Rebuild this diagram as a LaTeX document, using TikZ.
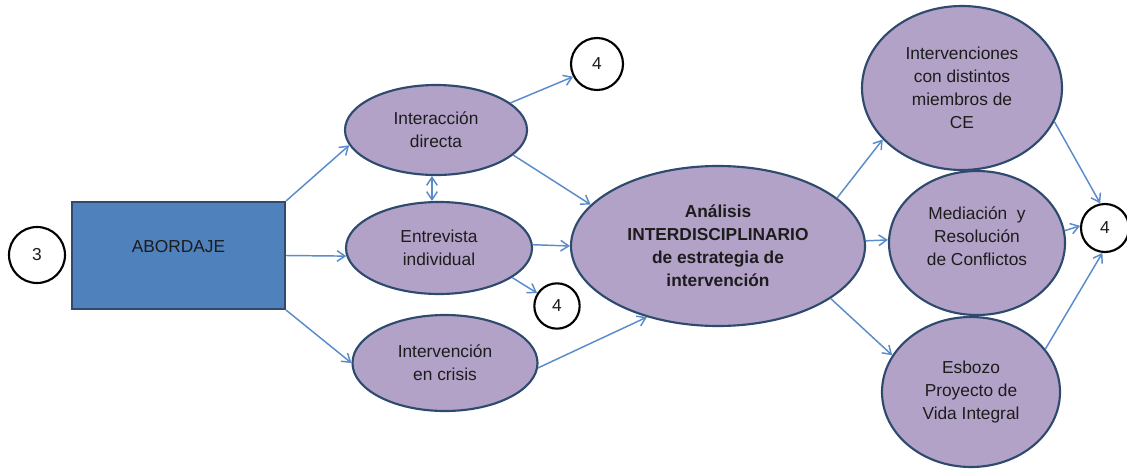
\documentclass[tikz,border=0pt]{standalone}
\usepackage{fontspec}
\setmainfont{Liberation Sans}
\usetikzlibrary{shapes.geometric,arrows.meta}
\definecolor{lav}{HTML}{B3A2C7}
\definecolor{edgeblue}{HTML}{2E4A6E}
\definecolor{boxblue}{HTML}{4F81BD}
\definecolor{arrowblue}{HTML}{5A8BCB}
\definecolor{txt}{HTML}{1C1C1C}
\tikzset{
  oval/.style={ellipse, draw=edgeblue, line width=1.6pt, fill=lav, inner sep=0pt, align=center, text=txt},
  numcirc/.style={circle, draw=black, line width=1.6pt, fill=white, inner sep=0pt, text=txt},
  conn/.style={draw=arrowblue, line width=1.1pt, -{Straight Barb[length=6pt,width=8pt]}},
  conn2/.style={draw=arrowblue, line width=1.1pt, {Straight Barb[length=6pt,width=8pt]}-{Straight Barb[length=6pt,width=8pt]}},
}
\begin{document}
\begin{tikzpicture}[x=0.75pt,y=-0.75pt,font=\fontsize{13}{17.25}\selectfont]
\useasboundingbox (0,0) rectangle (1127,471);
% nodes
\node[numcirc, minimum size=42pt] (three) at (37,255) {3};
\node[draw=edgeblue, line width=1.6pt, fill=boxblue, minimum width=159.75pt, minimum height=80.25pt, inner sep=0pt] (abordaje) at (178.5,255.5) {};
\node[text=txt] at (178.5,247) {ABORDAJE};
\node[oval, minimum width=136.5pt, minimum height=67.5pt] (inter) at (436,130) {Interacción\\directa};
\node[oval, minimum width=139.5pt, minimum height=69pt] (entre) at (439,248) {Entrevista\\individual};
\node[oval, minimum width=138.75pt, minimum height=72pt] (crisis) at (445,363) {Intervención\\en crisis};
\node[numcirc, minimum size=39pt] (fourA) at (597,64) {4};
\node[numcirc, minimum size=34pt] (fourB) at (557,306) {4};
\node[oval, minimum width=220.5pt, minimum height=120pt, font=\fontsize{13}{17.25}\selectfont\bfseries] (anal) at (718,246) {Análisis\\INTERDISCIPLINARIO\\de estrategia de\\intervención};
\node[oval, minimum width=150pt, minimum height=123pt] (ce) at (962,88) {Intervenciones\\con distintos\\miembros de\\CE};
\node[oval, minimum width=132pt, minimum height=108pt] (med) at (977,243) {};
\node[align=center, text=txt] at (977,236) {Mediación\ \ y\\Resolución\\de Conflictos};
\node[oval, minimum width=133.5pt, minimum height=112.5pt] (esb) at (971,392) {Esbozo\\Proyecto de\\Vida Integral};
\node[numcirc, minimum size=36pt] (fourC) at (1105,228) {4};
% connectors
\draw[conn] (abordaje.north east) -- (inter.190);
\draw[conn] (abordaje.east) -- (entre.185);
\draw[conn] (abordaje.south east) -- (crisis.180);
\draw[conn2] (inter.265) -- (inter.265 |- entre.north);
\draw[conn] (inter.20) -- (fourA.208);
\draw[conn] (inter.342) -- (anal.162);
\draw[conn] (entre.2) -- (anal.180);
\draw[conn] (entre.338) -- (fourB.147);
\draw[conn] (crisis.357) -- (anal.225);
\draw[conn] (anal.22) -- (ce.213);
\draw[conn] (anal.2) -- (med.178);
\draw[conn] (anal.335) -- (esb.155);
\draw[conn] (ce.340) -- (fourC.101);
\draw[conn] (med.8) -- (fourC.175);
\draw[conn] (esb.30) -- (fourC.264);
\end{tikzpicture}
\end{document}
